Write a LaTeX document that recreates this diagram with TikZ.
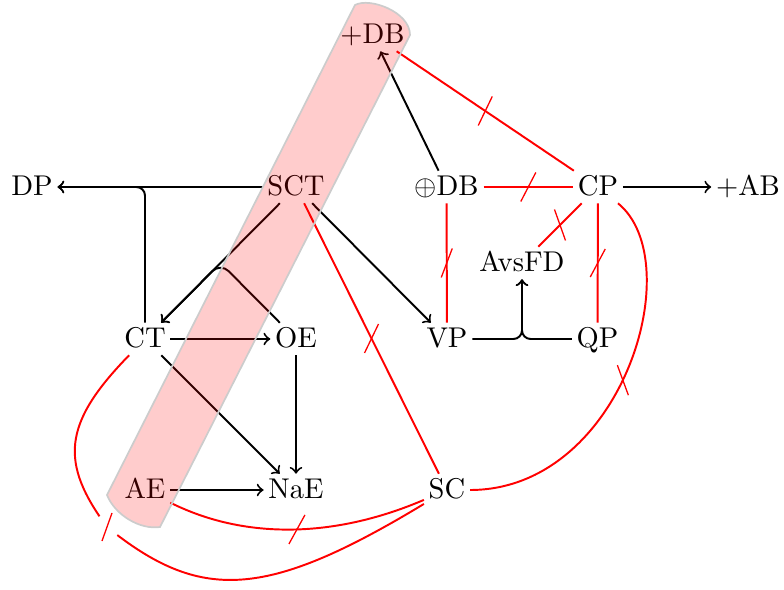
\documentclass[tikz,border=0pt]{standalone}
\usetikzlibrary{calc}
\begin{document}
\begin{tikzpicture}[x=0.35pt,y=-0.35pt,
  lbl/.style={inner sep=1.5pt, text height=7pt, text depth=1pt},
  arr/.style={->, line width=0.68pt},
  rl/.style={red, line width=0.68pt},
  tickline/.style={red, line width=0.45pt}]
\useasboundingbox (0,0) rectangle (784,590);
\newcommand\tickat[2]{\draw[tickline] ($(#1)-(#2)$) -- ($(#1)+(#2)$);}
% nodes
\node[lbl] (PDB) at (372.5,35) {+DB};
\node[lbl] (DP) at (32,187) {DP};
\node[lbl] (SCT) at (296,187) {SCT};
\node[lbl] (VDB) at (446.5,187) {$\oplus$DB};
\node[lbl] (CP) at (598,187) {CP};
\node[lbl] (AB) at (748,187) {+AB};
\node[lbl] (AF) at (522,263) {AvsFD};
\node[lbl] (CT) at (145,339) {CT};
\node[lbl] (OE) at (296,339) {OE};
\node[lbl] (VP) at (447,339) {VP};
\node[lbl] (QP) at (597.5,339) {QP};
\node[lbl] (AE) at (145,490) {AE};
\node[lbl] (NaE) at (296,490) {NaE};
\node[lbl] (SC) at (447,490) {SC};
% black arrows
\draw[arr] (VDB) -- (PDB);
\draw[arr] (SCT) -- (DP);
\draw[arr, rounded corners=3pt] (CT) |- (DP);
\draw[arr] (SCT) -- (CT);
\coordinate (hump) at ($(SCT)!0.5!(CT)$);
\draw[arr, rounded corners=4pt] (OE) -- (hump) -- (CT);
\draw[arr] (CT) -- (OE);
\draw[arr] (CT) -- (NaE);
\draw[arr] (OE) -- (NaE);
\draw[arr] (AE) -- (NaE);
\draw[arr] (SCT) -- (VP);
\draw[arr] (CP) -- (AB);
\draw[arr, rounded corners=3pt] (VP) -| (AF);
\draw[arr, rounded corners=3pt] (QP) -| (AF);
% red edges
\draw[rl] (PDB) -- coordinate[pos=.5] (ta) (CP);
\draw[rl] (VDB) -- coordinate[pos=.5] (tb) (CP);
\draw[rl] (VDB) -- coordinate[pos=.5] (tc) (VP);
\draw[rl] (CP) -- coordinate[pos=.5] (td) (AF);
\draw[rl] (CP) -- coordinate[pos=.5] (te) (QP);
\draw[rl] (CP) .. controls (690,262) and (622,490) .. coordinate[pos=.53] (tf) (SC);
\draw[rl] (SCT) -- coordinate[pos=.5] (tg) (SC);
\draw[rl] (AE) .. controls (245,540) and (335,538) .. coordinate[pos=.52] (th) (SC);
\draw[rl] (CT) .. controls (62,424) and (60,463) .. (107,527) coordinate (ti)
  .. controls (200,602) and (265,600) .. (SC);
\fill[white] (ti) circle[radius=4.6pt];
% tick marks
\tickat{ta}{7,-14.5}
\tickat{tb}{7.5,-14.5}
\tickat{tc}{5.5,-14.5}
\tickat{td}{5.5,15.5}
\tickat{te}{7.5,-14}
\tickat{tf}{5.5,15}
\tickat{tg}{7,-14.5}
\tickat{th}{8,-14.5}
\tickat{ti}{5,-14}
% highlight band
\path[fill=red, fill opacity=0.2, draw=black!20, line width=0.6pt]
  (355,5) .. controls (370,-3) and (410,12) .. (410,35) -- (160,527)
  .. controls (140,530) and (115,515) .. (107,495) -- cycle;
\end{tikzpicture}
\end{document}
